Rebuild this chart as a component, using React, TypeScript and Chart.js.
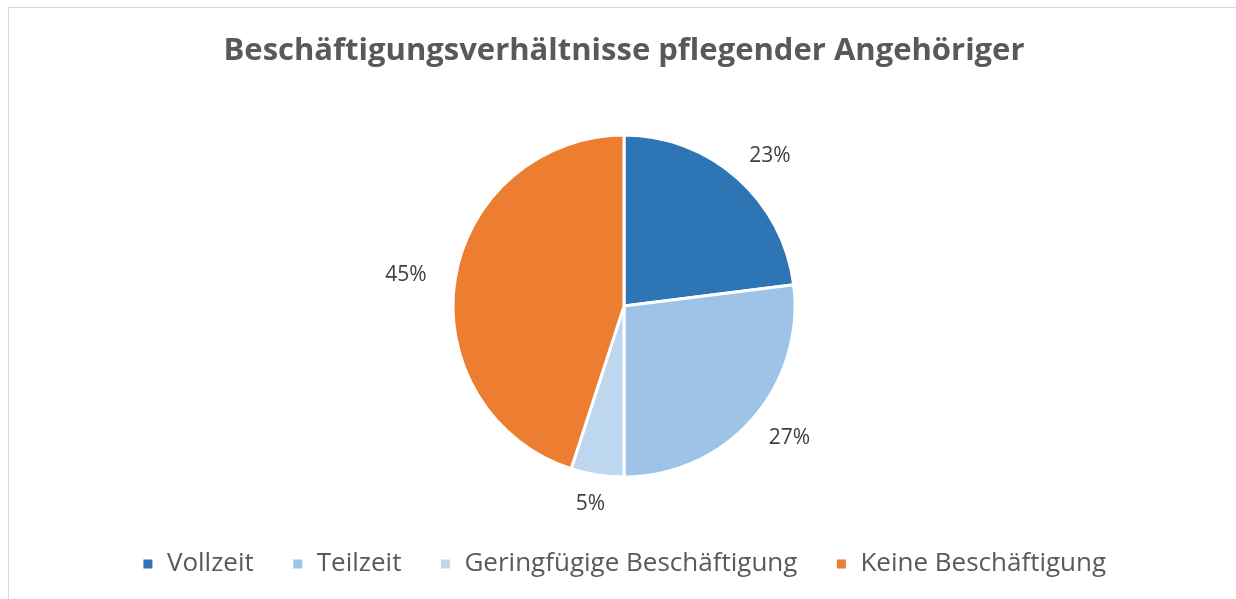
import React, { useEffect, useRef } from "react";
import { Chart, registerables } from "chart.js";

Chart.register(...registerables);

const title = "Beschäftigungsverhältnisse pflegender Angehöriger";
const categories = ["Vollzeit", "Teilzeit", "Geringfügige Beschäftigung", "Keine Beschäftigung"];
const values = [23, 27, 5, 45];
const colors = ["#2E75B6", "#9DC3E6", "#BDD7EE", "#ED7D31"];

const FONT = "'Open Sans', 'Noto Sans', sans-serif";

const labelPlugin = {
  id: "outsideLabels",
  afterDatasetsDraw(chart: any) {
    const ctx = chart.ctx;
    const meta = chart.getDatasetMeta(0);
    const total = values.reduce((a, b) => a + b, 0);
    ctx.save();
    ctx.font = `21px ${FONT}`;
    ctx.fillStyle = "#404040";
    ctx.textAlign = "center";
    ctx.textBaseline = "middle";
    meta.data.forEach((arc: any, i: number) => {
      const p = arc.getProps(["x", "y", "startAngle", "endAngle", "outerRadius"], true);
      const mid = (p.startAngle + p.endAngle) / 2;
      const text = Math.round((values[i] / total) * 100) + "%";
      const w = ctx.measureText(text).width;
      const r = p.outerRadius + 29;
      const dx = Math.cos(mid);
      const dy = Math.sin(mid);
      const x = p.x + dx * r + dx * (w / 2);
      const y = p.y + dy * r;
      ctx.fillText(text, x, y);
    });
    ctx.restore();
  },
};

export default function App() {
  const ref = useRef<HTMLCanvasElement>(null);
  useEffect(() => {
    if (!ref.current) return;
    const chart = new Chart(ref.current, {
      type: "pie",
      data: {
        labels: categories,
        datasets: [
          {
            data: values,
            backgroundColor: colors,
            borderColor: "#ffffff",
            borderWidth: 3,
            radius: 171,
          },
        ],
      },
      options: {
        animation: false,
        responsive: false,
        maintainAspectRatio: false,
        layout: { padding: { left: 12, right: 0, top: 0, bottom: 12 } },
        plugins: {
          title: {
            display: true,
            text: title,
            color: "#595959",
            font: { family: FONT, size: 31, weight: "bold" },
            padding: { top: 33, bottom: 29 },
          },
          legend: {
            position: "bottom",
            labels: {
              color: "#595959",
              font: { family: FONT, size: 26 },
              boxWidth: 12,
              boxHeight: 12,
              padding: 38,
            },
          },
          tooltip: { enabled: false },
        },
      },
      plugins: [labelPlugin],
    });
    return () => chart.destroy();
  }, []);
  return (
    <div style={{ position: "fixed", left: 0, top: 0, width: 1236, height: 599, overflow: "hidden", background: "#fff" }}>
      <div
        style={{
          position: "absolute",
          left: 8,
          top: 7,
          width: 1400,
          height: 800,
          borderLeft: "1px solid #d9d9d9",
          borderTop: "1px solid #d9d9d9",
        }}
      />
      <canvas ref={ref} width={1236} height={599} style={{ position: "absolute", left: 0, top: 0 }} />
    </div>
  );
}
